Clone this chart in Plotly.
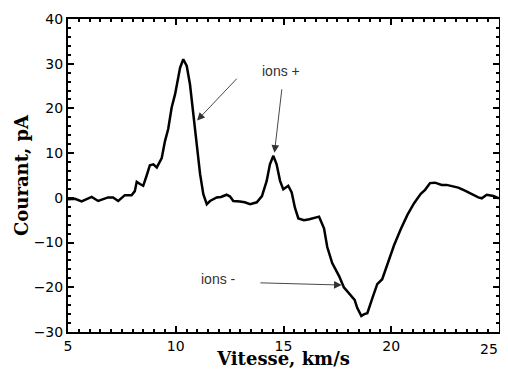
import plotly.graph_objects as go

# vitesse (km/s) and courant (pA)
vitesse = [5.0, 5.33, 5.63, 5.85, 6.1, 6.4, 6.6, 6.86, 7.09, 7.33, 7.64, 7.95, 8.1, 8.19, 8.34,
           8.49, 8.65, 8.8, 8.96, 9.12, 9.35, 9.5, 9.65, 9.81, 9.97, 10.1, 10.2, 10.35, 10.51,
           10.66, 10.81, 10.97, 11.13, 11.28, 11.44, 11.59, 11.9, 12.1, 12.36, 12.52, 12.67,
           12.98, 13.2, 13.45, 13.76, 14.0, 14.22, 14.37, 14.53, 14.68, 14.84, 14.99, 15.22,
           15.38, 15.53, 15.69, 15.95, 16.2, 16.46, 16.65, 16.88, 17.03, 17.26, 17.58, 17.8,
           18.12, 18.3, 18.42, 18.61, 18.75, 18.89, 19.12, 19.35, 19.58, 19.82, 20.13, 20.44,
           20.75, 21.06, 21.37, 21.57, 21.8, 22.03, 22.34, 22.57, 22.8, 23.11, 23.42, 23.73,
           24.04, 24.2, 24.43, 24.74, 25.0]
courant = [-0.3, -0.2, -0.8, -0.4, 0.2, -0.7, -0.3, 0.1, 0.1, -0.7, 0.6, 0.6, 1.5, 3.6, 3.1,
           2.7, 5.0, 7.3, 7.5, 6.8, 8.9, 12.7, 15.4, 20.2, 23.2, 26.5, 29.1, 31.0, 29.5,
           25.4, 18.7, 11.3, 5.3, 0.8, -1.4, -0.7, 0.1, 0.2, 0.7, 0.3, -0.7,
           -0.8, -1.0, -1.4, -1.0, 0.4, 3.8, 7.5, 9.4, 7.5, 3.8, 1.9, 2.7,
           1.2, -2.2, -4.6, -5.0, -4.8, -4.5, -4.2, -6.8, -11.0, -14.6, -17.5, -20.0,
           -21.9, -22.8, -24.6, -26.4, -26.0, -25.8, -22.5, -19.3, -18.2, -14.8, -10.6, -7.0,
           -3.8, -1.2, 0.9, 1.8, 3.3, 3.4, 2.9, 2.9, 2.7, 2.3, 1.6, 0.8,
           0.1, -0.1, 0.7, 0.4, -0.1]

x_ticks = [5, 10, 15, 20, 25]
y_ticks = [-30, -20, -10, 0, 10, 20, 30, 40]

# (label, x, y) and arrows (head x, head y, tail x, tail y)
labels = [("ions +", 14.88, 28.4), ("ions -", 12.0, -18.1)]
arrows = [(10.99, 17.3, 12.9, 27.0), (14.58, 10.1, 14.93, 24.6), (17.7, -19.5, 13.86, -19.0)]

fig = go.Figure()
fig.add_trace(go.Scatter(x=vitesse, y=courant, mode='lines',
                         line=dict(color='black', width=2.5), showlegend=False))

for txt, x, y in labels:
    fig.add_annotation(x=x, y=y, text=txt, showarrow=False,
                       font=dict(family='Liberation Sans, Arial', size=14, color='#333'))
for hx, hy, tx, ty in arrows:
    fig.add_annotation(x=hx, y=hy, ax=tx, ay=ty, axref='x', ayref='y', text='',
                       showarrow=True, arrowhead=2, arrowsize=1.7, arrowwidth=0.9,
                       arrowcolor='#333')

tick_font = dict(family='DejaVu Sans', size=14, color='black')
axis_common = dict(showgrid=False, zeroline=False, showline=True, linecolor='black',
                   linewidth=2, mirror='ticks', ticks='inside', ticklen=6, tickwidth=1.5,
                   tickcolor='black', automargin=False, tickfont=tick_font)

title_font = dict(family='DejaVu Serif', size=18, color='black')

# last x label gets clipped at the page edge, so it is drawn right-aligned instead
x_text = [str(v) for v in x_ticks[:-1]] + ['']
fig.add_annotation(x=x_ticks[-1], y=0, yref='paper', xanchor='right', yanchor='top',
                   yshift=-7, xshift=1, text=str(x_ticks[-1]), showarrow=False, font=tick_font)

fig.update_xaxes(range=[5, 25], tickvals=x_ticks, ticktext=x_text,
                 minor=dict(dtick=0.5, ticks='inside', ticklen=3, tickcolor='black'),
                 title=dict(text='<b>Vitesse, km/s</b>', standoff=0, font=title_font),
                 **axis_common)
fig.update_yaxes(range=[-30, 40], tickvals=y_ticks,
                 minor=dict(dtick=2, ticks='inside', ticklen=3, tickcolor='black'),
                 title=dict(text='<b>Courant, pA</b>', standoff=0, font=title_font),
                 **axis_common)

# the page puts the figure 8 px in from the top-left corner
fig.update_layout(width=500, height=361, margin=dict(l=60, r=9, t=11, b=37),
                  paper_bgcolor='white', plot_bgcolor='white')

fig.write_html("out.html")
